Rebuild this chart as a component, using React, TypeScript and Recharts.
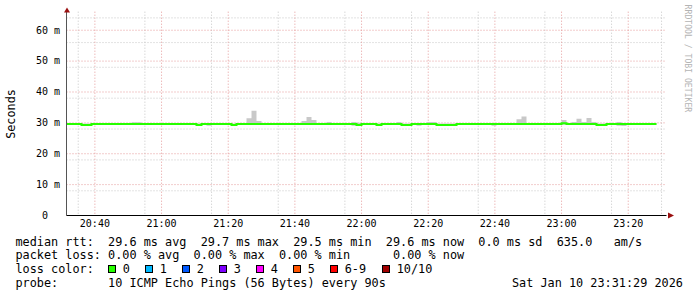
import { ComposedChart, Area, Line, XAxis, YAxis, CartesianGrid } from "recharts"

// window: 3 hours ending Sat Jan 10 23:31:29 2026, one bucket every 90 s
const windowStart = "20:31:29"
const windowSeconds = 10800
const stepSeconds = 90

const timeLabels = ["20:40", "21:00", "21:20", "21:40", "22:00", "22:20", "22:40", "23:00", "23:20"]
const minorTimes = [
  "20:35", "20:45", "20:50", "20:55", "21:05", "21:10", "21:15", "21:25", "21:30", "21:35",
  "21:45", "21:50", "21:55", "22:05", "22:10", "22:15", "22:25", "22:30", "22:35", "22:45",
  "22:50", "22:55", "23:05", "23:10", "23:15", "23:25", "23:30",
]
const yMajor = [0, 10, 20, 30, 40, 50, 60]
const yMinor = [2, 4, 6, 8, 12, 14, 16, 18, 22, 24, 26, 28, 32, 34, 36, 38, 42, 44, 46, 48, 52, 54, 56, 58, 62, 64]

// median rtt per bucket (ms)
const medianRtt = [
  29.6, 29.6, 29.6, 29.3, 29.3, 29.6, 29.6, 29.6, 29.6, 29.6,
  29.6, 29.6, 29.6, 29.6, 29.6, 29.6, 29.6, 29.6, 29.6, 29.6,
  29.6, 29.6, 29.6, 29.6, 29.6, 29.6, 29.3, 29.6, 29.6, 29.6,
  29.6, 29.6, 29.6, 29.3, 29.6, 29.6, 29.6, 29.6, 29.6, 29.6,
  29.6, 29.6, 29.6, 29.6, 29.6, 29.6, 29.6, 29.6, 29.6, 29.6,
  29.6, 29.6, 29.6, 29.6, 29.6, 29.6, 29.6, 29.6, 29.3, 29.6,
  29.6, 29.6, 29.3, 29.6, 29.6, 29.6, 29.6, 29.3, 29.3, 29.6,
  29.6, 29.6, 29.6, 29.6, 29.3, 29.3, 29.3, 29.3, 29.6, 29.6,
  29.6, 29.6, 29.6, 29.6, 29.6, 29.6, 29.6, 29.6, 29.6, 29.6,
  29.6, 29.6, 29.6, 29.6, 29.6, 29.6, 29.6, 29.6, 29.6, 29.9,
  29.6, 29.6, 29.6, 29.6, 29.6, 29.6, 29.3, 29.3, 29.6, 29.6,
  29.6, 29.6, 29.6, 29.6, 29.6, 29.6, 29.6, 29.6,
]

// smoke: fastest / slowest ping per bucket (ms)
const smokeLow = [
  29.4, 29.4, 29.4, 29.1, 29.1, 29.4, 29.4, 29.4, 29.4, 29.4,
  29.4, 29.4, 29.4, 29.4, 29.4, 29.4, 29.4, 29.4, 29.4, 29.4,
  29.4, 29.4, 29.4, 29.4, 29.4, 29.4, 29.1, 29.4, 29.1, 29.4,
  29.4, 29.4, 29.4, 29.1, 29.4, 29.4, 29.4, 29.4, 29.4, 29.4,
  29.4, 29.4, 29.4, 29.4, 29.4, 29.4, 29.4, 29.4, 29.4, 29.4,
  29.4, 29.4, 29.4, 29.4, 29.4, 29.4, 29.4, 29.1, 29.0, 29.4,
  29.4, 29.4, 29.1, 29.4, 29.4, 29.4, 29.4, 29.1, 29.1, 29.4,
  29.1, 29.4, 29.4, 29.4, 29.1, 29.1, 29.1, 29.1, 29.4, 29.4,
  29.4, 29.4, 29.4, 29.4, 29.4, 29.1, 29.4, 29.4, 29.4, 29.4,
  29.4, 29.4, 29.4, 29.4, 29.4, 29.4, 29.4, 29.4, 29.4, 29.4,
  29.4, 29.4, 29.4, 29.4, 29.4, 29.4, 29.1, 29.1, 29.4, 29.4,
  29.1, 29.0, 29.4, 29.4, 29.4, 29.4, 29.4, 29.4,
]
const smokeHigh = [
  29.8, 29.8, 29.8, 29.8, 29.8, 29.8, 29.8, 29.8, 29.8, 29.8,
  29.8, 29.8, 29.8, 30.2, 30.2, 29.8, 29.8, 29.8, 29.8, 29.8,
  29.8, 29.8, 29.8, 29.8, 29.8, 29.8, 29.8, 29.8, 29.8, 29.8,
  29.8, 29.8, 29.8, 29.8, 29.8, 29.8, 31.5, 33.9, 30.6, 29.8,
  29.8, 29.8, 29.8, 29.8, 29.8, 29.8, 29.8, 30.6, 31.9, 30.9,
  29.8, 29.8, 30.3, 29.8, 29.8, 29.8, 29.8, 30.3, 30.0, 29.8,
  29.8, 29.8, 29.8, 29.8, 29.8, 29.8, 30.3, 29.8, 29.8, 29.8,
  29.8, 29.8, 30.3, 30.3, 29.8, 29.8, 29.8, 29.8, 29.8, 29.8,
  29.8, 29.8, 29.8, 29.8, 29.8, 29.8, 29.8, 29.8, 29.8, 29.8,
  31.2, 32.1, 29.8, 29.8, 29.8, 29.8, 29.8, 29.8, 29.8, 30.9,
  29.8, 30.3, 31.3, 30.3, 31.6, 30.3, 29.8, 29.8, 29.8, 29.8,
  30.3, 29.8, 29.8, 29.8, 29.8, 29.8, 29.8, 29.8,
]

const lossLabels = ["0", "1", "2", "3", "4", "5", "6-9", "10/10"]
const lossColors = ["#26ff00", "#00b8ff", "#0059ff", "#7e00ff", "#ff00ff", "#ff5500", "#ff0000", "#a10000"]

const legendLines = [
  "median rtt:  29.6 ms avg  29.7 ms max  29.5 ms min  29.6 ms now  0.0 ms sd  635.0   am/s",
  "packet loss: 0.00 % avg  0.00 % max  0.00 % min      0.00 % now",
  "loss color:",
  "probe:       10 ICMP Echo Pings (56 Bytes) every 90s",
]
const stampText = "Sat Jan 10 23:31:29 2026"

const toSec = (s: string) => {
  const [h, m, sec] = s.split(":").map(Number)
  return h * 3600 + m * 60 + (sec || 0)
}

const t0 = toSec(windowStart)
const rows: { t: number; median: number; smoke: number[] }[] = medianRtt.map((m, i) => ({
  t: t0 + i * stepSeconds,
  median: m,
  smoke: [smokeLow[i], smokeHigh[i]],
}))
// close the last step
const last = rows[rows.length - 1]
rows.push({ ...last, t: last.t + stepSeconds })

const labelByTime: Record<number, string> = {}
timeLabels.forEach((l) => (labelByTime[toSec(l)] = l))

const mono = "'DejaVu Sans Mono', monospace"

const XTick = (props: any) => {
  const { x, y, payload } = props
  return (
    <text x={x} y={y + 11} textAnchor="middle" fontFamily={mono} fontSize={10} fill="#000">
      {labelByTime[payload.value]}
    </text>
  )
}

const YTick = (props: any) => {
  const { x, y, payload } = props
  const v = payload.value
  return (
    <text x={v === 0 ? x - 12 : x} y={y + 3.3} textAnchor="end" fontFamily={mono} fontSize={10} fill="#000">
      {v === 0 ? "0" : `${v} m`}
    </text>
  )
}

const boxX = [108.5, 145.5, 182.5, 219.5, 256.5, 293.5, 330.5, 382.5]
const baselines = [245.6, 259.4, 273.2, 287]

export default function App() {
  return (
    <div style={{ position: "absolute", left: 0, top: 0, width: 697, height: 297, background: "#fff" }}>
      <ComposedChart
        width={697}
        height={297}
        data={rows}
        margin={{ top: 11.7, right: 30.5, bottom: 61.5, left: 6.5 }}
      >
        <CartesianGrid
          stroke="#c6c6c6"
          strokeDasharray="1 2"
          horizontalValues={yMinor}
          verticalValues={minorTimes.map(toSec)}
        />
        <CartesianGrid
          stroke="#e59a9a"
          strokeDasharray="1 2"
          horizontalValues={yMajor}
          verticalValues={timeLabels.map(toSec)}
        />
        <XAxis
          dataKey="t"
          type="number"
          domain={[t0, t0 + windowSeconds]}
          ticks={timeLabels.map(toSec)}
          height={20}
          tickLine={false}
          tickSize={0}
          tickMargin={0}
          tick={<XTick />}
          axisLine={{ stroke: "#000" }}
          allowDataOverflow
        />
        <YAxis
          type="number"
          domain={[0, 66]}
          ticks={yMajor}
          width={60}
          tickLine={false}
          tickSize={0}
          tickMargin={6.5}
          tick={<YTick />}
          axisLine={{ stroke: "#555" }}
          allowDataOverflow
        />
        <Area
          dataKey="smoke"
          type="stepAfter"
          fill="#c8c8c8"
          fillOpacity={1}
          stroke="none"
          isAnimationActive={false}
        />
        <Line
          dataKey="median"
          type="stepAfter"
          stroke="#26ff00"
          strokeWidth={2}
          dot={false}
          isAnimationActive={false}
        />
      </ComposedChart>
      <svg width={697} height={297} style={{ position: "absolute", left: 0, top: 0, pointerEvents: "none" }}>
        <polygon points="67,7.5 64,12.5 70,12.5" fill="#9a1010" />
        <polygon points="668,212.5 668,218.5 674,215.5" fill="#9a1010" />
        <text
          transform="translate(15,114) rotate(-90)"
          textAnchor="middle"
          fontFamily={mono}
          fontSize={11.8}
          fill="#000"
        >
          Seconds
        </text>
        <text
          transform="translate(685,4.6) rotate(90)"
          fontFamily={mono}
          fontSize={8.15}
          fill="#b4b4b4"
        >
          RRDTOOL / TOBI OETIKER
        </text>
        {legendLines.map((line, i) => (
          <text
            key={i}
            x={15.5}
            y={baselines[i]}
            fontFamily={mono}
            fontSize={11.83}
            fill="#000"
            style={{ whiteSpace: "pre" }}
          >
            {line}
          </text>
        ))}
        {lossLabels.map((l, i) => (
          <g key={l}>
            <rect x={boxX[i]} y={265.5} width={7} height={7} fill={lossColors[i]} stroke="#000" strokeWidth={1} />
            <text x={boxX[i] + 14.2} y={baselines[2]} fontFamily={mono} fontSize={11.83} fill="#000">
              {l}
            </text>
          </g>
        ))}
        <text x={512} y={baselines[3]} fontFamily={mono} fontSize={11.83} fill="#000">
          {stampText}
        </text>
      </svg>
    </div>
  )
}
